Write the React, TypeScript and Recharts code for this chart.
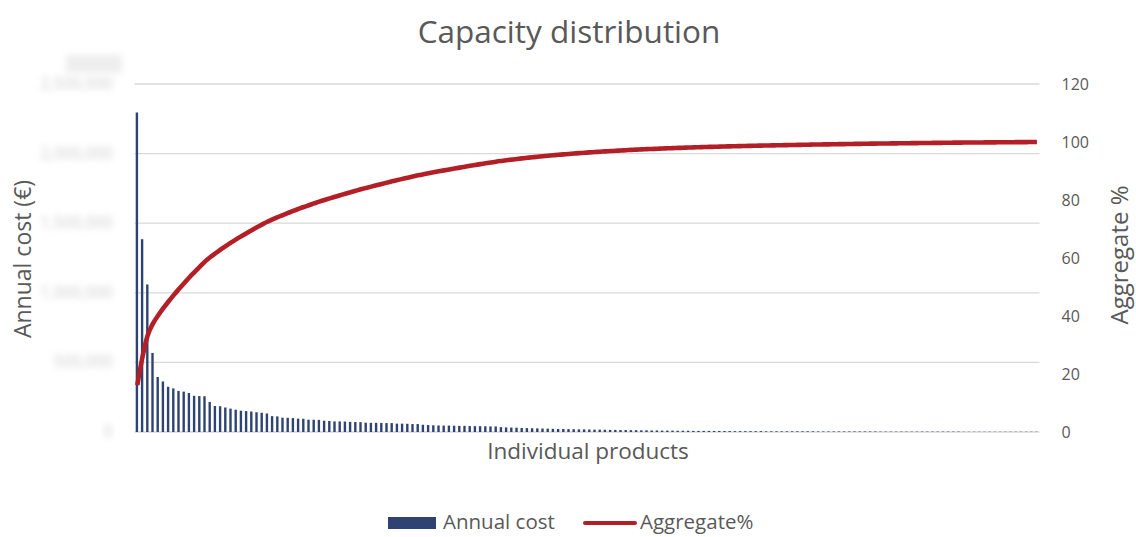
import { ComposedChart, Bar, Line, XAxis, YAxis, CartesianGrid } from "recharts";

// annual cost per product (€), sorted descending
const annualCost = [
  2295000, 1385000, 1060000, 568000, 395000, 363000, 325000, 313000, 295000, 290000,
  280000, 260000, 258000, 257000, 216000, 187000, 185000, 176000, 168000, 160000,
  153000, 150000, 147000, 141000, 138000, 133000, 114000, 112000, 103000, 102000,
  100000, 96000, 95000, 88000, 88000, 87000, 81000, 79000, 76000, 76000,
  75000, 73000, 72000, 71000, 67000, 66000, 66000, 65000, 64000, 64000,
  60000, 60000, 59000, 57000, 57000, 52000, 50000, 48000, 47000, 46000,
  46000, 45000, 44000, 44000, 43000, 42000, 42000, 41000, 40000, 40000,
  35000, 33000, 32000, 31000, 29000, 28000, 27000, 26000, 25000, 24000,
  23000, 22000, 22000, 21000, 20000, 19000, 19000, 18000, 17000, 17000,
  16000, 15000, 15000, 14000, 14000, 13000, 13000, 12000, 12000, 11000,
  11000, 10000, 10000, 10000, 9000, 9000, 9000, 8000, 8000, 8000,
  8000, 7000, 7000, 7000, 7000, 6000, 6000, 6000, 6000, 6000,
  6000, 5000, 5000, 5000, 5000, 5000, 5000, 5000, 5000, 5000,
  5000, 4000, 4000, 4000, 4000, 4000, 4000, 4000, 4000, 4000,
  4000, 4000, 4000, 3000, 3000, 3000, 3000, 3000, 3000, 3000,
  3000, 3000, 3000, 3000, 3000, 3000, 3000, 3000, 3000, 2000,
  2000, 2000, 2000, 2000, 2000, 2000, 2000, 2000, 2000, 2000,
  2000, 2000, 2000, 2000,
];

const products = annualCost.map((_, i) => `P${i + 1}`);

const costTicks = [0, 500000, 1000000, 1500000, 2000000, 2500000];
const percentTicks = [0, 20, 40, 60, 80, 100, 120];

const total = annualCost.reduce((s, v) => s + v, 0);
let running = 0;
const rows = annualCost.map((cost, i) => {
  running += cost;
  return { product: products[i], cost, aggregate: (running / total) * 100 };
});

const FONT = "'Open Sans', 'Noto Sans', sans-serif";
const TEXT = "#595959";
const BAR = "#2E4372";
const LINE = "#B31F26";

// left-hand cost labels are hidden behind a blur
function BlurredTick({ x, y, payload }: any) {
  return (
    <text
      x={x}
      y={y}
      dy={5}
      textAnchor="end"
      fontSize={16}
      fontFamily={FONT}
      fill="#cfcfcf"
      filter="url(#tickBlur)"
    >
      {payload.value.toLocaleString("en-US")}
    </text>
  );
}

export default function App() {
  return (
    <div
      style={{
        position: "absolute",
        left: 0,
        top: 0,
        width: 1136,
        height: 537,
        background: "#fff",
        fontFamily: FONT,
        color: TEXT,
      }}
    >
      <ComposedChart
        width={1136}
        height={537}
        data={rows}
        margin={{ top: 84, right: 0, bottom: 105, left: 0 }}
        barCategoryGap={0}
      >
        <defs>
          <filter id="tickBlur" x="-20%" y="-60%" width="140%" height="220%">
            <feGaussianBlur stdDeviation="3.4" />
          </filter>
        </defs>
        <CartesianGrid yAxisId="cost" vertical={false} stroke="#D9D9D9" strokeWidth={1.3} />
        <XAxis dataKey="product" hide />
        <YAxis
          yAxisId="cost"
          orientation="left"
          width={134.7}
          domain={[0, 2500000]}
          ticks={costTicks}
          axisLine={false}
          tickLine={false}
          tickSize={0}
          tickMargin={22}
          tick={<BlurredTick />}
        />
        <YAxis
          yAxisId="pct"
          orientation="right"
          width={96.5}
          domain={[0, 120]}
          ticks={percentTicks}
          axisLine={false}
          tickLine={false}
          tickSize={0}
          tickMargin={22}
          tick={{ fontSize: 16, fill: TEXT, fontFamily: FONT, textAnchor: "start" }}
        />
        <Bar yAxisId="cost" dataKey="cost" fill={BAR} barSize={2.4} isAnimationActive={false} />
        <Line
          yAxisId="pct"
          dataKey="aggregate"
          type="monotone"
          stroke={LINE}
          strokeWidth={4.6}
          dot={false}
          activeDot={false}
          isAnimationActive={false}
        />
      </ComposedChart>

      {/* title */}
      <div style={{ position: "absolute", left: 0, width: 1138, top: 9, textAlign: "center", fontSize: 31.5 }}>
        Capacity distribution
      </div>

      {/* blurred unit marker above the cost axis */}
      <div
        style={{
          position: "absolute",
          left: 66,
          top: 55,
          width: 56,
          height: 18,
          background: "#eeeeee",
          filter: "blur(3px)",
        }}
      />

      {/* axis titles */}
      <div
        style={{
          position: "absolute",
          left: 22,
          top: 259,
          fontSize: 23,
          whiteSpace: "nowrap",
          transform: "translate(-50%, -50%) rotate(-90deg)",
        }}
      >
        Annual cost (€)
      </div>
      <div
        style={{
          position: "absolute",
          left: 1119,
          top: 255,
          fontSize: 24,
          lineHeight: "26px",
          whiteSpace: "nowrap",
          transform: "translate(-50%, -50%) rotate(-90deg)",
        }}
      >
        Aggregate %
      </div>
      <div style={{ position: "absolute", left: 388, width: 400, top: 435, textAlign: "center", fontSize: 22.5 }}>
        Individual products
      </div>

      {/* legend */}
      <div style={{ position: "absolute", left: 388, top: 517, width: 48, height: 12, background: BAR }} />
      <div style={{ position: "absolute", left: 443, top: 507, fontSize: 20.5 }}>Annual cost</div>
      <div style={{ position: "absolute", left: 583, top: 521, width: 54, height: 4, background: LINE, borderRadius: 2 }} />
      <div style={{ position: "absolute", left: 640, top: 507, fontSize: 20.5 }}>Aggregate%</div>
    </div>
  );
}
